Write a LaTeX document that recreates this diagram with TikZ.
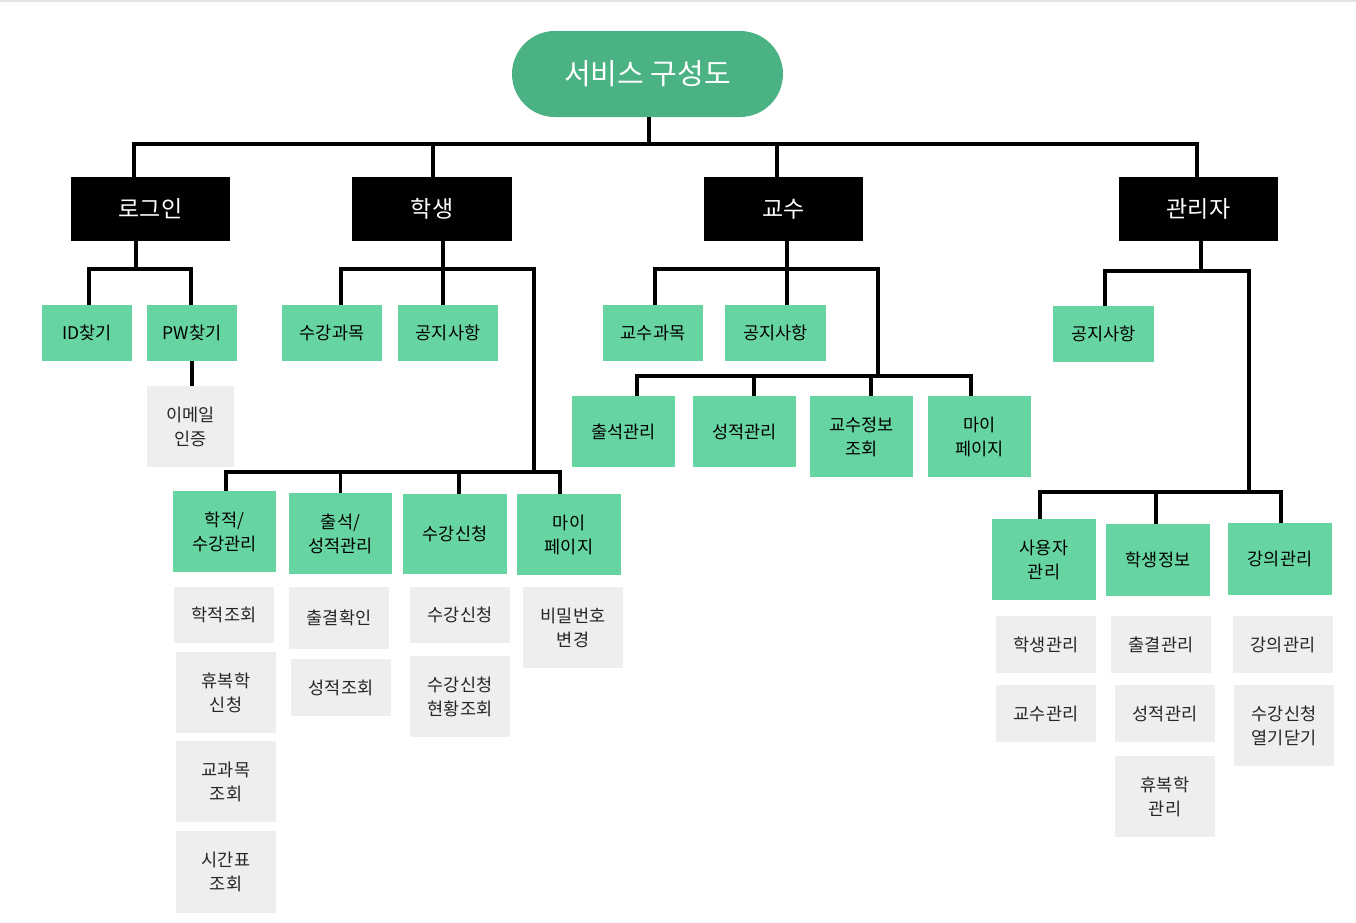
\documentclass[tikz,border=0pt]{standalone}
\usepackage{fontspec}
\newfontfamily\kr{Noto Sans CJK KR}
\usepackage{tikz}
\usetikzlibrary{positioning, calc}
\definecolor{rootgreen}{HTML}{4AB283}
\definecolor{menugreen}{HTML}{67D5A2}
\definecolor{subgray}{HTML}{F0EEEC}
\definecolor{rulegray}{HTML}{E4E4EA}

\begin{document}
\begin{tikzpicture}[
    x=1pt, y=-1pt,
    every node/.style={font=\kr\fontsize{17.5}{24}\selectfont, align=center, inner sep=0pt},
    root/.style={fill=rootgreen, text=white, rounded corners=43pt, minimum width=271pt, minimum height=86pt, font=\kr\fontsize{29}{34}\selectfont},
    head/.style={fill=black, text=white, minimum width=159pt, minimum height=64pt, font=\kr\fontsize{23}{28}\selectfont},
    menu/.style={fill=menugreen, text=black, minimum width=103pt, minimum height=81pt},
    sub/.style={fill=subgray, text=black!85, minimum width=100pt, minimum height=81pt},
    wire/.style={line width=3.2pt, black}
]
\useasboundingbox (0,0) rectangle (1356,922);
\draw[rulegray, line width=1.5pt] (0,1) -- (1356,1);

% === NODES ===

% root
\node[root] (root) at (647.5,74) {서비스 구성도};

% top level
\node[head] (login)   at (150.5,209) {로그인};
\node[head, minimum width=160pt] (student) at (432,209) {학생};
\node[head] (prof)    at (783.5,209) {교수};
\node[head] (admin)   at (1198.5,209) {관리자};

% login
\node[menu, minimum width=90pt, minimum height=56pt] (idfind) at (87,333) {ID찾기};
\node[menu, minimum width=90pt, minimum height=56pt] (pwfind) at (192,333) {PW찾기};
\node[sub, minimum width=87pt] (email) at (190.5,426.5) {이메일\\인증};

% student
\node[menu, minimum width=100pt, minimum height=56pt] (sCourse) at (332,333) {수강과목};
\node[menu, minimum width=100pt, minimum height=56pt] (sNotice) at (448,333) {공지사항};
\node[menu] (sRecord) at (224.5,531.5) {학적/\\수강관리};
\node[menu] (sAttend) at (340.5,533.5) {출석/\\성적관리};
\node[menu, minimum width=104pt, minimum height=80pt] (sEnroll) at (455,534) {수강신청};
\node[menu, minimum width=104pt] (sMy) at (569,534.5) {마이\\페이지};

\node[sub, minimum height=56pt] (sRecord1) at (224,615) {학적조회};
\node[sub] (sRecord2) at (226,692.5) {휴복학\\신청};
\node[sub] (sRecord3) at (226,781.5) {교과목\\조회};
\node[sub, minimum height=82pt] (sRecord4) at (226,872) {시간표\\조회};
\node[sub, minimum height=62pt] (sAttend1) at (339,618) {출결확인};
\node[sub, minimum height=57pt] (sAttend2) at (341,687.5) {성적조회};
\node[sub, minimum height=56pt] (sEnroll1) at (460,615) {수강신청};
\node[sub] (sEnroll2) at (460,696.5) {수강신청\\현황조회};
\node[sub] (sMy1) at (573,627.5) {비밀번호\\변경};

% professor
\node[menu, minimum width=100pt, minimum height=56pt] (pCourse) at (653,333) {교수과목};
\node[menu, minimum width=101pt, minimum height=56pt] (pNotice) at (775.5,333) {공지사항};
\node[menu, minimum height=71pt] (pAttend) at (623.5,431.5) {출석관리};
\node[menu, minimum height=71pt] (pGrade)  at (744.5,431.5) {성적관리};
\node[menu] (pInfo) at (861.5,436.5) {교수정보\\조회};
\node[menu] (pMy)   at (979.5,436.5) {마이\\페이지};

% admin
\node[menu, minimum width=101pt, minimum height=56pt] (aNotice) at (1103.5,334) {공지사항};
\node[menu, minimum width=104pt] (aUser) at (1044,559.5) {사용자\\관리};
\node[menu, minimum width=104pt, minimum height=72pt] (aStudent) at (1158,560) {학생정보};
\node[menu, minimum width=104pt, minimum height=72pt] (aLecture) at (1280,559) {강의관리};

\node[sub, minimum height=57pt] (aUser1) at (1046,644.5) {학생관리};
\node[sub, minimum height=57pt] (aUser2) at (1046,713.5) {교수관리};
\node[sub, minimum height=57pt] (aStudent1) at (1161,644.5) {출결관리};
\node[sub, minimum height=57pt] (aStudent2) at (1165,713.5) {성적관리};
\node[sub] (aStudent3) at (1165,796.5) {휴복학\\관리};
\node[sub, minimum height=57pt] (aLecture1) at (1283,644.5) {강의관리};
\node[sub] (aLecture2) at (1284,725.5) {수강신청\\열기닫기};

% === BUS POINTS ===
\coordinate (hub)   at (649,144);
\coordinate (lbus)  at (136,269);
\coordinate (sbus)  at (443,269);
\coordinate (sbus2) at (534,472);
\coordinate (pbus)  at (787,269);
\coordinate (pbus2) at (878,376);
\coordinate (abus)  at (1201,271);
\coordinate (abus2) at (1249,492);

% === CONNECTORS ===

% root -> top level
\draw[wire] (root.south -| hub) -- (hub);
\draw[wire] ([xshift=-16.5pt]login.north) |- (hub) -| ([xshift=-1.5pt]admin.north);
\draw[wire] ([xshift=1pt]student.north) -- ([xshift=1pt]student.north |- hub);
\draw[wire] ([xshift=-6.5pt]prof.north) -- ([xshift=-6.5pt]prof.north |- hub);

% login
\draw[wire] (lbus |- login.south) -- (lbus);
\draw[wire] ([xshift=2pt]idfind.north) |- (lbus) -| ([xshift=-1pt]pwfind.north);
\draw[wire] (pwfind.south) -- (pwfind.south |- email.north);

% student
\draw[wire] (sbus |- student.south) -- (sbus);
\draw[wire] ([xshift=9pt]sCourse.north) |- (sbus2 |- sbus) -- (sbus2);
\draw[wire] (sNotice.north -| sbus) -- (sbus);
\draw[wire] ([xshift=1.5pt]sRecord.north) |- (sbus2) -| ([xshift=-9pt]sMy.north);
\draw[wire] (sAttend.north) -- (sAttend.north |- sbus2);
\draw[wire] ([xshift=4pt]sEnroll.north) -- ([xshift=4pt]sEnroll.north |- sbus2);

% professor
\draw[wire] (pbus |- prof.south) -- (pbus);
\draw[wire] ([xshift=2pt]pCourse.north) |- (pbus2 |- pbus) -- (pbus2);
\draw[wire] (pNotice.north -| pbus) -- (pbus);
\draw[wire] ([xshift=13.5pt]pAttend.north) |- (pbus2) -| ([xshift=-8.5pt]pMy.north);
\draw[wire] ([xshift=9.5pt]pGrade.north) -- ([xshift=9.5pt]pGrade.north |- pbus2);
\draw[wire] ([xshift=9.5pt]pInfo.north) -- ([xshift=9.5pt]pInfo.north |- pbus2);

% admin
\draw[wire] (abus |- admin.south) -- (abus);
\draw[wire] ([xshift=1.5pt]aNotice.north) |- (abus2 |- abus) -- (abus2);
\draw[wire] ([xshift=-4pt]aUser.north) |- (abus2) -| ([xshift=1pt]aLecture.north);
\draw[wire] ([xshift=-2pt]aStudent.north) -- ([xshift=-2pt]aStudent.north |- abus2);

\end{tikzpicture}
\end{document}
